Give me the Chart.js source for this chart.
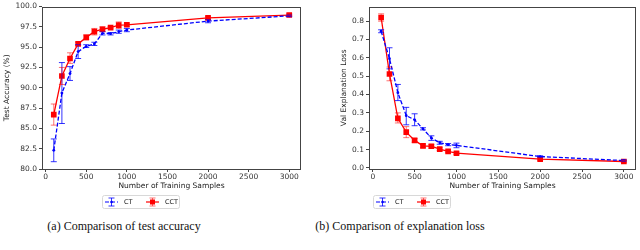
<!DOCTYPE html>
<html>
<head>
<meta charset="utf-8">
<script src="https://cdn.jsdelivr.net/npm/chart.js@4.4.0/dist/chart.umd.min.js"></script>
<style>
  body { margin: 0; background: #fff; width: 640px; height: 250px; position: relative; overflow: hidden; }
  .plot { position: absolute; top: 0; }
  .caption { position: absolute; top: 219px; font-family: "Liberation Serif", serif; font-size: 12px; color: #111; white-space: nowrap; transform: translateX(-50%); }
</style>
</head>
<body>
<div class="plot" style="left:0;width:310px;height:212px"><canvas id="accChart"></canvas></div>
<div class="plot" style="left:320px;width:320px;height:212px"><canvas id="lossChart"></canvas></div>
<div class="caption" style="left:124px">(a) Comparison of test accuracy</div>
<div class="caption" style="left:400px">(b) Comparison of explanation loss</div>
<script>
// training set sizes (x axis)
const samples = [100, 200, 300, 400, 500, 600, 700, 800, 900, 1000, 2000, 3000];

// test accuracy (%)
const accCT     = [82.3, 89.35, 91.75, 94.45, 95.1, 95.4, 96.7, 96.65, 96.9, 97.1, 98.2, 98.85];
const accCTLo   = [80.9, 85.6, 90.9, 93.6, 94.95, 95.2, 96.5, 96.5, 96.7, 96.9, 98.0, 98.75];
const accCTHi   = [83.7, 93.1, 92.6, 95.3, 95.3, 95.6, 96.9, 96.8, 97.1, 97.3, 98.4, 98.95];
const accCCT    = [86.7, 91.45, 93.6, 95.4, 96.2, 96.9, 97.2, 97.4, 97.7, 97.75, 98.6, 98.95];
const accCCTLo  = [85.4, 90.4, 93.0, 95.2, 95.9, 96.5, 96.9, 97.25, 97.3, 97.55, 98.45, 98.85];
const accCCTHi  = [88.0, 92.5, 94.3, 95.6, 96.5, 97.3, 97.5, 97.55, 98.1, 97.95, 98.75, 99.1];

// validation explanation loss
const lossCT    = [0.745, 0.595, 0.41, 0.285, 0.262, 0.213, 0.163, 0.137, 0.127, 0.123, 0.062, 0.04];
const lossCTLo  = [0.737, 0.54, 0.367, 0.235, 0.23, 0.207, 0.15, 0.129, 0.121, 0.11, 0.058, 0.037];
const lossCTHi  = [0.753, 0.655, 0.455, 0.33, 0.295, 0.219, 0.175, 0.145, 0.133, 0.135, 0.066, 0.043];
const lossCCT   = [0.82, 0.512, 0.27, 0.195, 0.15, 0.12, 0.118, 0.102, 0.09, 0.08, 0.048, 0.035];
const lossCCTLo = [0.80, 0.475, 0.245, 0.165, 0.14, 0.11, 0.108, 0.095, 0.083, 0.073, 0.042, 0.03];
const lossCCTHi = [0.84, 0.55, 0.30, 0.225, 0.16, 0.13, 0.128, 0.11, 0.097, 0.087, 0.054, 0.04];

const xTicks = [0, 500, 1000, 1500, 2000, 2500, 3000];

const BLUE = '#0000ff';
const RED = '#ff0000';
const tickFont = { family: 'DejaVu Sans', size: 7.5 };

const toPoints = (ys) => samples.map((x, i) => ({ x: x, y: ys[i] }));

// draws vertical error bars with caps using the chart's own scales
const errorBars = {
    id: 'errorBars',
    afterDatasetsDraw(chart) {
        const ctx = chart.ctx;
        const xs = chart.scales.x, ys = chart.scales.y;
        chart.data.datasets.forEach((ds) => {
            ctx.save();
            ctx.strokeStyle = ds.errColor;
            ctx.lineWidth = 1;
            samples.forEach((s, i) => {
                const px = xs.getPixelForValue(s);
                const lo = ys.getPixelForValue(ds.errLo[i]);
                const hi = ys.getPixelForValue(ds.errHi[i]);
                ctx.beginPath();
                ctx.moveTo(px, lo); ctx.lineTo(px, hi);
                ctx.moveTo(px - 3, lo); ctx.lineTo(px + 3, lo);
                ctx.moveTo(px - 3, hi); ctx.lineTo(px + 3, hi);
                ctx.stroke();
            });
            ctx.restore();
        });
    }
};

// matplotlib style frame and boxed legend
const frameAndLegend = {
    id: 'frameAndLegend',
    afterDraw(chart, args, opts) {
        const ctx = chart.ctx;
        const a = chart.chartArea;
        ctx.save();
        ctx.strokeStyle = '#444';
        ctx.lineWidth = 1;
        ctx.strokeRect(Math.round(a.left) + 0.5, Math.round(a.top) + 0.5,
            Math.round(a.right - a.left) - 1, Math.round(a.bottom - a.top) - 1);

        // legend box
        const bx = opts.x, by = 195, bw = 77, bh = 13;
        ctx.strokeStyle = '#d8d8d8';
        ctx.fillStyle = '#fff';
        ctx.beginPath();
        ctx.roundRect(bx + 0.5, by + 0.5, bw, bh, 2);
        ctx.fill();
        ctx.stroke();
        const cy = by + bh / 2 + 0.5;
        chart.data.datasets.forEach((ds, k) => {
            const gx = bx + 3 + k * 41;
            ctx.strokeStyle = ds.borderColor;
            ctx.lineWidth = 1.2;
            ctx.setLineDash(ds.borderDash || []);
            ctx.beginPath();
            ctx.moveTo(gx, cy); ctx.lineTo(gx + 13, cy);
            ctx.stroke();
            ctx.setLineDash([]);
            ctx.strokeStyle = ds.errColor;
            ctx.lineWidth = 1;
            const mx = gx + 6.5;
            ctx.beginPath();
            ctx.moveTo(mx, cy - 4); ctx.lineTo(mx, cy + 4);
            ctx.moveTo(mx - 3, cy - 4); ctx.lineTo(mx + 3, cy - 4);
            ctx.moveTo(mx - 3, cy + 4); ctx.lineTo(mx + 3, cy + 4);
            ctx.stroke();
            ctx.fillStyle = ds.borderColor;
            if (ds.pointStyle === 'rect') ctx.fillRect(mx - 2.5, cy - 2.5, 5, 5);
            else { ctx.beginPath(); ctx.arc(mx, cy, 1.3, 0, Math.PI * 2); ctx.fill(); }
            ctx.fillStyle = '#222';
            ctx.font = '6.5px "DejaVu Sans"';
            ctx.textBaseline = 'middle';
            ctx.fillText(ds.label, gx + 19, cy);
        });
        ctx.restore();
    }
};

function makeDatasets(ct, ctLo, ctHi, cct, cctLo, cctHi) {
    return [{
        label: 'CT',
        data: toPoints(ct),
        errLo: ctLo, errHi: ctHi,
        errColor: 'rgba(0,0,255,0.8)',
        borderColor: BLUE,
        backgroundColor: BLUE,
        borderWidth: 1.3,
        borderDash: [4, 2],
        pointStyle: 'circle',
        pointRadius: 1.4,
        pointBorderWidth: 0,
        showLine: true
    }, {
        label: 'CCT',
        data: toPoints(cct),
        errLo: cctLo, errHi: cctHi,
        errColor: 'rgba(255,0,0,0.55)',
        borderColor: RED,
        backgroundColor: RED,
        borderWidth: 1.3,
        pointStyle: 'rect',
        pointRadius: 4,
        pointBorderWidth: 0,
        showLine: true
    }];
}

function makeChart(id, datasets, cfg) {
    return new Chart(document.getElementById(id), {
        type: 'scatter',
        data: { datasets: datasets },
        plugins: [errorBars, frameAndLegend],
        options: {
            responsive: true,
            maintainAspectRatio: false,
            animation: false,
            layout: { padding: { top: cfg.padTop, right: cfg.padRight, bottom: 20, left: 0 } },
            plugins: {
                legend: { display: false },
                tooltip: { enabled: false },
                frameAndLegend: { x: cfg.legendX }
            },
            scales: {
                x: {
                    type: 'linear',
                    min: -45, max: 3145,
                    afterBuildTicks: (scale) => { scale.ticks = xTicks.map(v => ({ value: v })); },
                    afterFit: (scale) => { scale.height = 23; },
                    border: { display: false },
                    grid: { drawOnChartArea: false, tickLength: 3, color: '#444' },
                    ticks: { font: tickFont, color: '#333', padding: 1, maxRotation: 0, callback: (v) => String(v) },
                    title: { display: true, text: 'Number of Training Samples', font: tickFont, color: '#222', padding: { top: 0, bottom: 1 } }
                },
                y: {
                    min: cfg.yMin, max: cfg.yMax,
                    afterBuildTicks: (scale) => { scale.ticks = cfg.yTicks.map(v => ({ value: v })); },
                    afterFit: (scale) => { scale.width = cfg.yWidth; },
                    border: { display: false },
                    grid: { drawOnChartArea: false, tickLength: 3, color: '#444' },
                    ticks: { font: tickFont, color: '#333', padding: 2, callback: (v) => v.toFixed(1) },
                    title: { display: true, text: cfg.yTitle, font: tickFont, color: '#222', padding: { top: cfg.yTitlePad, bottom: 0 } }
                }
            }
        }
    });
}

const accTicks = [80, 82.5, 85, 87.5, 90, 92.5, 95, 97.5, 100];
const lossTicks = [0, 0.1, 0.2, 0.3, 0.4, 0.5, 0.6, 0.7, 0.8];

makeChart('accChart', makeDatasets(accCT, accCTLo, accCTHi, accCCT, accCCTLo, accCCTHi), {
    padTop: 4, padRight: 9, yMin: 80, yMax: 100, yTicks: accTicks, yWidth: 42,
    yTitle: 'Test Accuracy (%)', yTitlePad: 3, legendX: 102
});

makeChart('lossChart', makeDatasets(lossCT, lossCTLo, lossCTHi, lossCCT, lossCCTLo, lossCCTHi), {
    padTop: 1, padRight: 2, yMin: -0.006, yMax: 0.88, yTicks: lossTicks, yWidth: 49,
    yTitle: 'Val Explanation Loss', yTitlePad: 20, legendX: 53
});
</script>
</body>
</html>
